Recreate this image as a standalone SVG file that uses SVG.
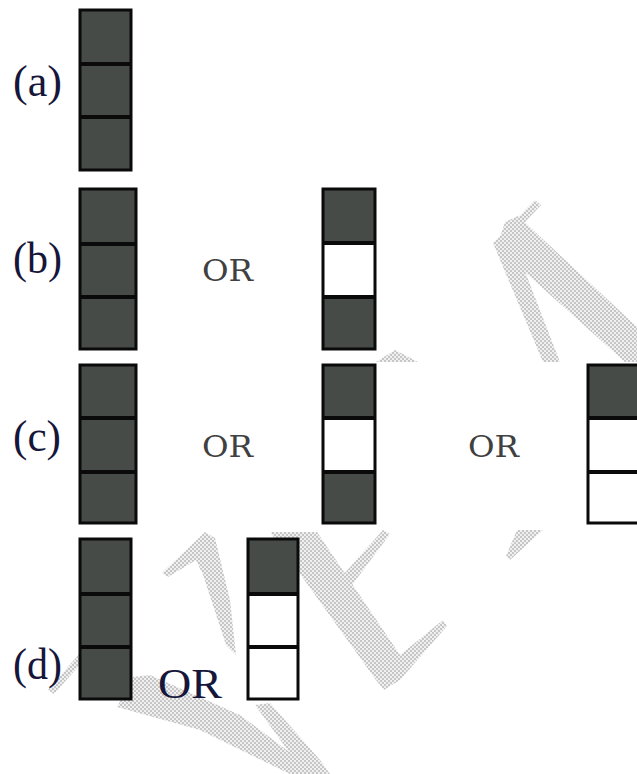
<svg xmlns="http://www.w3.org/2000/svg" width="637" height="774" viewBox="0 0 637 774">
<defs>
<pattern id="hatch" width="4" height="4" patternUnits="userSpaceOnUse">
<rect x="0" y="0" width="4" height="4" fill="#f0f0f0"/>
<rect x="0" y="0" width="2" height="2" fill="#c6c6c6"/>
<rect x="2" y="2" width="2" height="2" fill="#c6c6c6"/>
</pattern>
</defs>
<style>
.dark{fill:#474b47}
.light{fill:#ffffff}
.frame{fill:none;stroke:#0a0a0a;stroke-width:3}
.div{stroke:#0a0a0a;stroke-width:4}
.lbl{font-family:"Liberation Serif","Times New Roman",serif;font-size:44px;fill:#16163a}
.or{font-family:"DejaVu Serif","Liberation Serif",serif;font-size:30px;fill:#404040}
.or2{font-family:"Liberation Serif","Times New Roman",serif;font-size:42px;fill:#16163a}
.wm{fill:url(#hatch)}
</style>
<rect width="637" height="774" fill="#ffffff"/>

<g id="watermark">
<polygon class="wm" points="535,200 541,205 512,236 497,247 493,243"/>
<polygon class="wm" points="493,243 512,238 560,362 543,362"/>
<polygon class="wm" points="505,222 518,216 637,327 637,362 625,362 497,247"/>
<polygon class="wm" points="376,362 395,350 418,362"/>
<polygon class="wm" points="517,530 543,530 510,560 506,556"/>
<polygon class="wm" points="162,573 205,532 215,538 230,600 236,655 226,645 203,575 196,560 168,577"/>
<polygon class="wm" points="270,532 317,532 400,655 443,620 447,626 400,680 384,690 376,680"/>
<polygon class="wm" points="343,575 383,530 390,534 352,585"/>
<polygon class="wm" points="48,690 80,653 84,660 54,694"/>
<polygon class="wm" points="133,677 150,675 240,715 300,760 310,774 290,774 200,730 117,707"/>
<polygon class="wm" points="255,705 270,703 320,760 330,774 305,774"/>
</g>

<g id="label-a"><text class="lbl" x="13" y="96" textLength="49" lengthAdjust="spacingAndGlyphs">(a)</text></g>
<g id="label-b"><text class="lbl" x="13" y="273" textLength="49" lengthAdjust="spacingAndGlyphs">(b)</text></g>
<g id="label-c"><text class="lbl" x="13" y="451" textLength="48" lengthAdjust="spacingAndGlyphs">(c)</text></g>
<g id="label-d"><text class="lbl" x="13" y="679" textLength="49" lengthAdjust="spacingAndGlyphs">(d)</text></g>

<g id="or-b"><text class="or" x="202" y="281" textLength="51" lengthAdjust="spacingAndGlyphs">OR</text></g>
<g id="or-c1"><text class="or" x="202" y="457" textLength="51" lengthAdjust="spacingAndGlyphs">OR</text></g>
<g id="or-c2"><text class="or" x="468" y="457" textLength="51" lengthAdjust="spacingAndGlyphs">OR</text></g>
<g id="or-d"><text class="or2" x="158" y="698" textLength="64" lengthAdjust="spacingAndGlyphs">OR</text></g>

<g id="stack-a">
<rect class="dark" x="80" y="10" width="51" height="160"/>
<rect class="frame" x="80" y="10" width="51" height="160"/>
<line class="div" x1="80" y1="64" x2="131" y2="64"/>
<line class="div" x1="80" y1="117" x2="131" y2="117"/>
</g>

<g id="stack-b1">
<rect class="dark" x="80" y="189" width="56" height="160"/>
<rect class="frame" x="80" y="189" width="56" height="160"/>
<line class="div" x1="80" y1="244" x2="136" y2="244"/>
<line class="div" x1="80" y1="297" x2="136" y2="297"/>
</g>

<g id="stack-b2">
<rect class="dark" x="323" y="189" width="52" height="54"/>
<rect class="light" x="323" y="243" width="52" height="54"/>
<rect class="dark" x="323" y="297" width="52" height="52"/>
<rect class="frame" x="323" y="189" width="52" height="160"/>
<line class="div" x1="323" y1="243" x2="375" y2="243"/>
<line class="div" x1="323" y1="297" x2="375" y2="297"/>
</g>

<g id="stack-c1">
<rect class="dark" x="80" y="365" width="56" height="158"/>
<rect class="frame" x="80" y="365" width="56" height="158"/>
<line class="div" x1="80" y1="418" x2="136" y2="418"/>
<line class="div" x1="80" y1="472" x2="136" y2="472"/>
</g>

<g id="stack-c2">
<rect class="dark" x="323" y="365" width="52" height="53"/>
<rect class="light" x="323" y="418" width="52" height="54"/>
<rect class="dark" x="323" y="472" width="52" height="51"/>
<rect class="frame" x="323" y="365" width="52" height="158"/>
<line class="div" x1="323" y1="418" x2="375" y2="418"/>
<line class="div" x1="323" y1="472" x2="375" y2="472"/>
</g>

<g id="stack-c3">
<rect class="dark" x="588" y="365" width="52" height="53"/>
<rect class="light" x="588" y="418" width="52" height="105"/>
<rect class="frame" x="588" y="365" width="52" height="158"/>
<line class="div" x1="588" y1="418" x2="640" y2="418"/>
<line class="div" x1="588" y1="472" x2="640" y2="472"/>
</g>

<g id="stack-d1">
<rect class="dark" x="80" y="539" width="51" height="160"/>
<rect class="frame" x="80" y="539" width="51" height="160"/>
<line class="div" x1="80" y1="594" x2="131" y2="594"/>
<line class="div" x1="80" y1="647" x2="131" y2="647"/>
</g>

<g id="stack-d2">
<rect class="dark" x="248" y="539" width="50" height="55"/>
<rect class="light" x="248" y="594" width="50" height="105"/>
<rect class="frame" x="248" y="539" width="50" height="160"/>
<line class="div" x1="248" y1="594" x2="298" y2="594"/>
<line class="div" x1="248" y1="647" x2="298" y2="647"/>
</g>
</svg>
